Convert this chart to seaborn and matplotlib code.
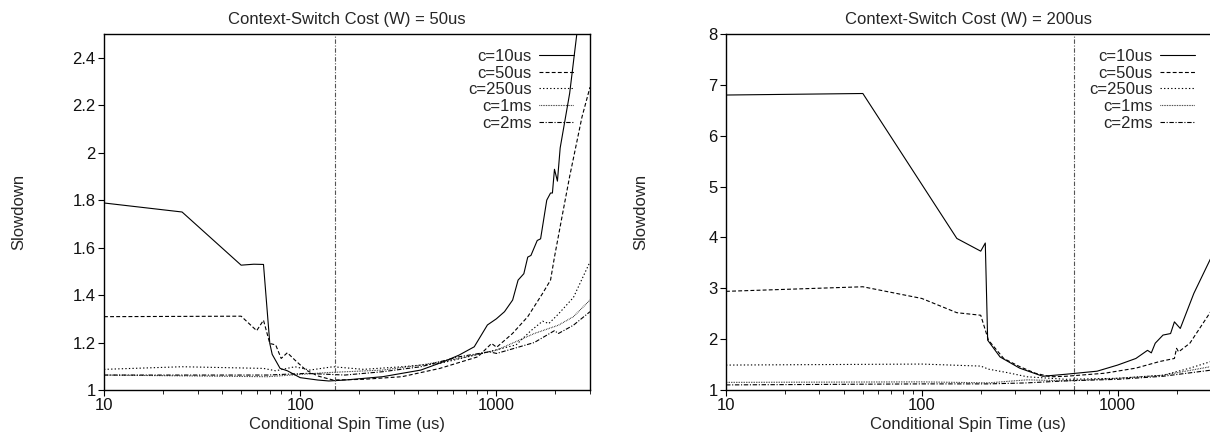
import pandas as pd
import seaborn as sns
import matplotlib.pyplot as plt
from matplotlib.ticker import FuncFormatter, NullFormatter

# W = 50us panel
w50_c10_x = [10, 25, 50, 58, 65, 70, 72, 79, 86, 100, 123, 140, 169, 263, 412, 537, 645, 771,
             900, 1000, 1100, 1210, 1290, 1380, 1445, 1500, 1615, 1680, 1806, 1888, 1930, 1977,
             2047, 2114, 2363, 2570, 3000]
w50_c10_y = [1.788, 1.750, 1.526, 1.530, 1.529, 1.196, 1.15, 1.091, 1.081, 1.052, 1.042, 1.038,
             1.042, 1.056, 1.084, 1.119, 1.147, 1.182, 1.274, 1.30, 1.33, 1.379, 1.463, 1.49,
             1.56, 1.567, 1.63, 1.637, 1.80, 1.83, 1.83, 1.93, 1.88, 2.02, 2.25, 2.5, 2.95]
w50_c50_x = [10, 50, 60, 65, 70, 75, 80, 86, 94, 107, 123, 147, 210, 330, 515, 805, 945, 1003,
             1208, 1445, 1720, 1888, 1977, 2160, 2363, 2730, 3000]
w50_c50_y = [1.309, 1.311, 1.25, 1.294, 1.196, 1.19, 1.133, 1.157, 1.126, 1.084, 1.059, 1.042,
             1.045, 1.056, 1.091, 1.14, 1.196, 1.18, 1.238, 1.309, 1.407, 1.463, 1.56, 1.73,
             1.90, 2.15, 2.276]
w50_c250_x = [10, 25, 65, 75, 94, 112, 147, 210, 330, 515, 805, 1260, 1500, 1720, 1850, 2070,
              2470, 3000]
w50_c250_y = [1.087, 1.098, 1.091, 1.081, 1.098, 1.084, 1.098, 1.087, 1.098, 1.112, 1.15, 1.19,
              1.25, 1.29, 1.28, 1.32, 1.39, 1.54]
w50_c1ms_x = [10, 68, 90, 135, 263, 412, 645, 1003, 1560, 2070, 2470, 3000]
w50_c1ms_y = [1.063, 1.056, 1.063, 1.073, 1.084, 1.105, 1.133, 1.168, 1.238, 1.273, 1.309, 1.379]
w50_c2ms_x = [10, 68, 107, 169, 263, 412, 645, 920, 1003, 1560, 1977, 2070, 2470, 3000]
w50_c2ms_y = [1.063, 1.063, 1.07, 1.063, 1.077, 1.098, 1.14, 1.161, 1.154, 1.20, 1.25, 1.238,
              1.273, 1.33]

# W = 200us panel
w200_c10_x = [10, 50, 151, 200, 211, 217, 251, 316, 415, 545, 786, 1000, 1240, 1422, 1487, 1557,
              1706, 1865, 1951, 2090, 2452, 3000]
w200_c10_y = [6.80, 6.83, 3.98, 3.73, 3.89, 1.98, 1.65, 1.43, 1.27, 1.31, 1.37, 1.49, 1.62,
              1.78, 1.73, 1.92, 2.08, 2.11, 2.34, 2.21, 2.9, 3.6]
w200_c50_x = [10, 50, 100, 151, 200, 219, 262, 316, 380, 455, 545, 860, 1240, 1640, 1951, 2000,
              2050, 2340, 3000]
w200_c50_y = [2.94, 3.03, 2.80, 2.52, 2.47, 1.98, 1.62, 1.46, 1.33, 1.26, 1.27, 1.33, 1.43,
              1.56, 1.62, 1.82, 1.75, 1.92, 2.55]
w200_c250_x = [10, 100, 200, 219, 275, 345, 545, 1000, 1706, 2340, 3000]
w200_c250_y = [1.49, 1.51, 1.47, 1.41, 1.34, 1.26, 1.21, 1.23, 1.29, 1.43, 1.56]
w200_c1ms_x = [10, 100, 219, 345, 545, 1000, 1706, 3000]
w200_c1ms_y = [1.15, 1.16, 1.14, 1.20, 1.18, 1.23, 1.29, 1.46]
w200_c2ms_x = [10, 100, 219, 345, 545, 1000, 1706, 3000]
w200_c2ms_y = [1.10, 1.12, 1.12, 1.14, 1.18, 1.21, 1.27, 1.39]

series_names = ["c=10us", "c=50us", "c=250us", "c=1ms", "c=2ms"]
panel_titles = ["Context-Switch Cost (W) = 50us", "Context-Switch Cost (W) = 200us"]
marker_lines = [150, 600]
y_limits = [(1, 2.5), (1, 8)]
y_ticks = [[1, 1.2, 1.4, 1.6, 1.8, 2, 2.2, 2.4], [1, 2, 3, 4, 5, 6, 7, 8]]


def make_frame(xs, ys):
    parts = []
    for name, x, y in zip(series_names, xs, ys):
        parts.append(pd.DataFrame({"spin": x, "slowdown": y, "cost": name}))
    return pd.concat(parts, ignore_index=True)


frames = [
    make_frame([w50_c10_x, w50_c50_x, w50_c250_x, w50_c1ms_x, w50_c2ms_x],
               [w50_c10_y, w50_c50_y, w50_c250_y, w50_c1ms_y, w50_c2ms_y]),
    make_frame([w200_c10_x, w200_c50_x, w200_c250_x, w200_c1ms_x, w200_c2ms_x],
               [w200_c10_y, w200_c50_y, w200_c250_y, w200_c1ms_y, w200_c2ms_y]),
]

dash_map = {
    "c=10us": "",
    "c=50us": (3.5, 2),
    "c=250us": (1.2, 2),
    "c=1ms": (0.6, 0.9),
    "c=2ms": (4, 1.5, 1, 1.5),
}

sns.set_theme(style="ticks")
plt.rcParams["font.family"] = ["Liberation Sans", "DejaVu Sans"]
plt.rcParams["font.size"] = 12

fig = plt.figure(figsize=(12.1, 4.38), dpi=100)
ax_left = fig.add_axes([104 / 1210, 48 / 438, 486 / 1210, 356 / 438])
ax_right = fig.add_axes([726 / 1210, 48 / 438, 485 / 1210, 356 / 438])

for ax, df, title, vx, ylim, yt in zip([ax_left, ax_right], frames, panel_titles,
                                       marker_lines, y_limits, y_ticks):
    sns.lineplot(data=df, x="spin", y="slowdown", style="cost", dashes=dash_map,
                 color="black", linewidth=0.8, estimator=None, sort=False, ax=ax)
    ax.axvline(vx, color="#555555", linewidth=0.8, dashes=(4, 1.5, 1, 1.5))
    ax.set_xscale("log")
    ax.set_xlim(10, 3000)
    ax.set_ylim(*ylim)
    ax.set_yticks(yt)
    ax.yaxis.set_major_formatter(FuncFormatter(lambda v, p: "%g" % v))
    ax.xaxis.set_major_formatter(FuncFormatter(lambda v, p: "%d" % v))
    ax.xaxis.set_minor_formatter(NullFormatter())
    ax.tick_params(axis="both", which="major", length=4, width=0.8, labelsize=12,
                   color="black", labelcolor="#111111", pad=2)
    ax.tick_params(axis="x", which="minor", length=3, width=0.6, color="black")
    for s in ax.spines.values():
        s.set_visible(True)
        s.set_color("black")
        s.set_linewidth(1.0)
    ax.set_title(title, fontsize=12, pad=7)
    ax.set_xlabel("Conditional Spin Time (us)", fontsize=12, labelpad=3)
    ax.set_ylabel("Slowdown", fontsize=12)
    ax.yaxis.set_label_coords(-0.16, 0.5)
    handles, labels = ax.get_legend_handles_labels()
    ax.legend(handles, labels, loc="upper right", bbox_to_anchor=(0.968, 0.958),
              frameon=False, markerfirst=False, fontsize=12, handlelength=2.1,
              handletextpad=0.45, labelspacing=0.1, borderpad=0, borderaxespad=0)

fig.savefig("out.png", dpi=100)
